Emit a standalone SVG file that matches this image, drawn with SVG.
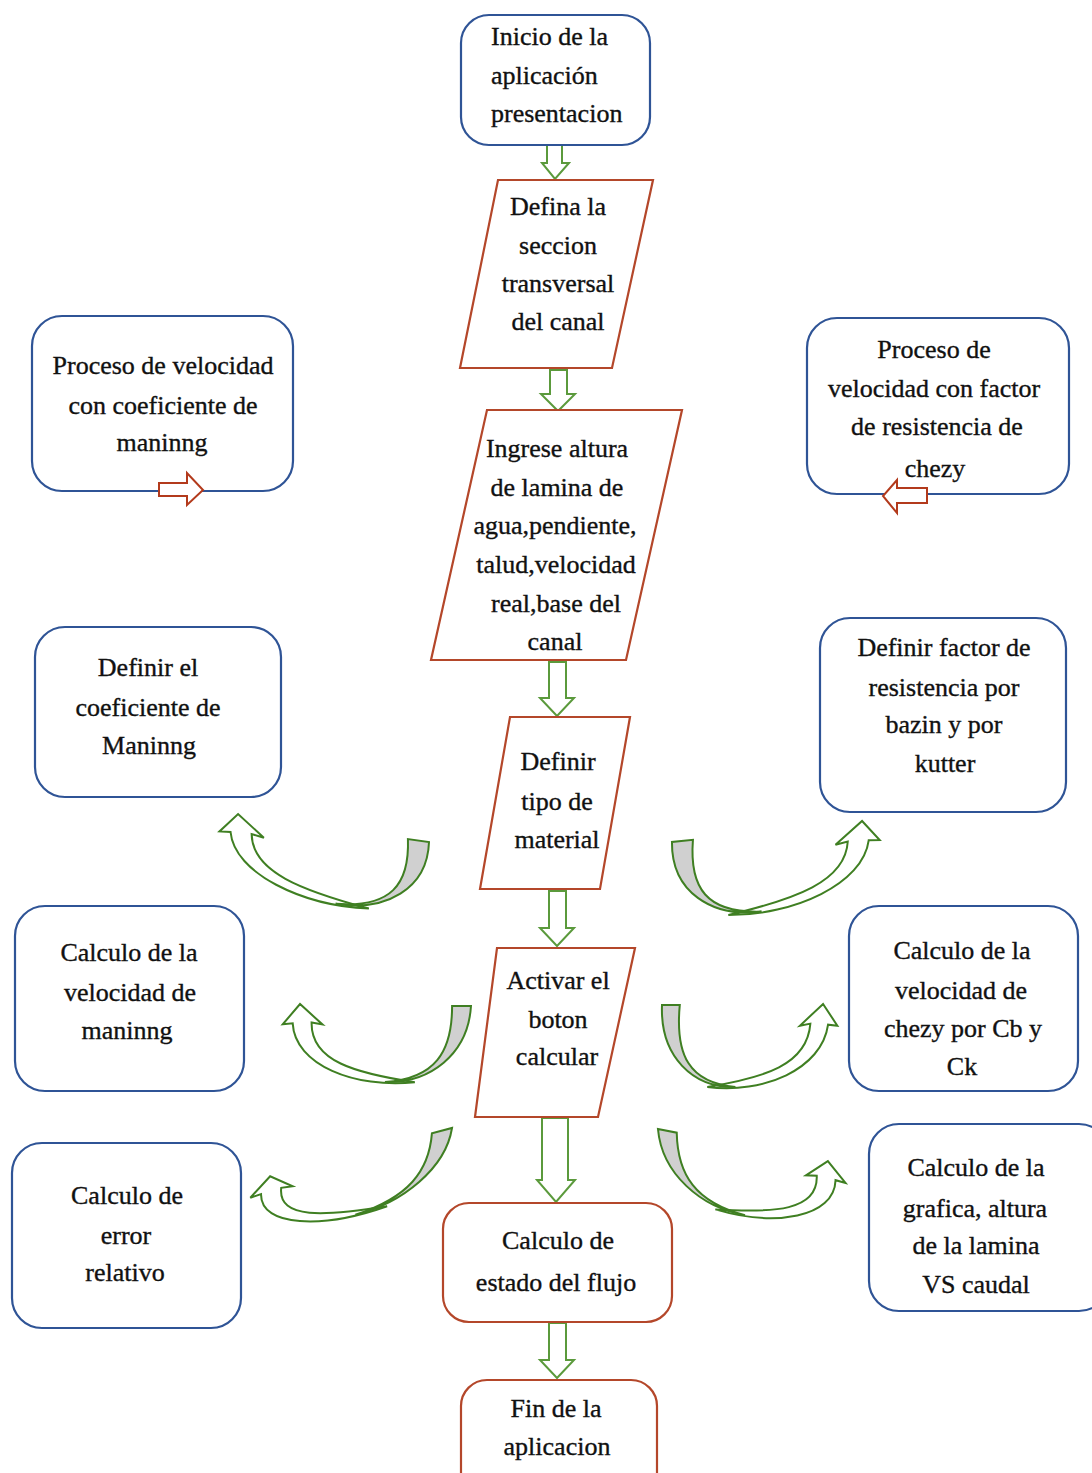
<svg xmlns="http://www.w3.org/2000/svg" width="1092" height="1473" viewBox="0 0 1092 1473">
<defs>
<style>
.bg{fill:#ffffff}
.bbox{fill:#ffffff;stroke:#2f5496;stroke-width:2.2}
.rbox{fill:#ffffff;stroke:#b4472a;stroke-width:2.2}
.t{font-family:"Liberation Serif","Times New Roman",serif;font-size:26px;fill:#111111;stroke:#111111;stroke-width:0.35;text-anchor:middle}
.tl{font-family:"Liberation Serif","Times New Roman",serif;font-size:26px;fill:#111111;stroke:#111111;stroke-width:0.35;text-anchor:start}
.down{fill:#ffffff;stroke:#5b9a3c;stroke-width:2}
.red{fill:#ffffff;stroke:#b33a1c;stroke-width:2}
.cg{fill:#d0d0d0;stroke:#3f7f22;stroke-width:2;vector-effect:non-scaling-stroke}
.cw{fill:#ffffff;stroke:#3f7f22;stroke-width:2;vector-effect:non-scaling-stroke}
</style>
<g id="curve">
<path class="cw" d="M35,-1 C-25,6 -86,-18 -89,-61 L-99,-60 L-82,-81 L-59,-60 L-70,-62 C-70,-22 -25,-10 35,-1 Z"/>
<path class="cg" d="M90,-80 C88,-30 50,0 5,-1 C55,-5 72,-32 71,-80 Z"/>
</g>
</defs>
<rect class="bg" x="0" y="0" width="1092" height="1473"/>

<g id="connectors">
<path class="down" d="M547,145 L562,145 L562,163 L569,163 L555,179 L542,163 L547,163 Z"/>
<path class="down" d="M550,370 L567,370 L567,394 L575,394 L558,411 L541,394 L550,394 Z"/>
<path class="down" d="M549,662 L566,662 L566,698 L574,698 L557,716 L540,698 L549,698 Z"/>
<path class="down" d="M549,891 L566,891 L566,928 L574,928 L557,946 L540,928 L549,928 Z"/>
<path class="down" d="M542,1118 L568,1118 L568,1180 L575,1180 L556,1202 L537,1180 L542,1180 Z"/>
<path class="down" d="M549,1323 L566,1323 L566,1360 L574,1360 L557,1378 L540,1360 L549,1360 Z"/>
<use href="#curve" transform="matrix(1.110,0.157,0.011,0.951,330,904)"/>
<use href="#curve" transform="matrix(0.994,0.006,-0.019,0.969,380,1083)"/>
<use href="#curve" transform="matrix(1.058,-0.285,-0.085,0.792,350,1217)"/>
<use href="#curve" transform="matrix(-1.105,0.116,-0.055,1.006,767,912)"/>
<use href="#curve" transform="matrix(-0.936,0,-0.078,1.038,740,1088)"/>
<use href="#curve" transform="matrix(-0.988,-0.192,0.039,0.884,750,1217)"/>
</g>

<g id="n-inicio">
<rect class="bbox" x="461" y="15" width="189" height="130" rx="28"/>
<text class="tl" x="491" y="45">Inicio de la</text>
<text class="tl" x="491" y="84">aplicación</text>
<text class="tl" x="491" y="122">presentacion</text>
</g>

<g id="n-defina">
<polygon class="rbox" points="498,180 653,180 612,368 460,368"/>
<text class="t" x="558" y="215">Defina la</text>
<text class="t" x="558" y="254">seccion</text>
<text class="t" x="558" y="292">transversal</text>
<text class="t" x="558" y="330">del canal</text>
</g>

<g id="n-ingrese">
<polygon class="rbox" points="487,410 682,410 626,660 431,660"/>
<text class="t" x="557" y="457">Ingrese altura</text>
<text class="t" x="557" y="496">de lamina de</text>
<text class="t" x="555" y="534">agua,pendiente,</text>
<text class="t" x="556" y="573">talud,velocidad</text>
<text class="t" x="556" y="612">real,base del</text>
<text class="t" x="555" y="650">canal</text>
</g>

<g id="n-material">
<polygon class="rbox" points="510,717 630,717 600,889 480,889"/>
<text class="t" x="558" y="770">Definir</text>
<text class="t" x="557" y="810">tipo de</text>
<text class="t" x="557" y="848">material</text>
</g>

<g id="n-activar">
<polygon class="rbox" points="497,948 635,948 598,1117 475,1117"/>
<text class="t" x="558" y="989">Activar el</text>
<text class="t" x="558" y="1028">boton</text>
<text class="t" x="557" y="1065">calcular</text>
</g>

<g id="n-estado">
<rect class="rbox" x="443" y="1203" width="229" height="119" rx="26"/>
<text class="t" x="558" y="1249">Calculo de</text>
<text class="t" x="556" y="1291">estado del flujo</text>
</g>

<g id="n-fin">
<rect class="rbox" x="461" y="1380" width="196" height="120" rx="26"/>
<text class="t" x="556" y="1417">Fin de la</text>
<text class="t" x="557" y="1455">aplicacion</text>
</g>

<g id="n-proc-maninng">
<rect class="bbox" x="32" y="316" width="261" height="175" rx="30"/>
<text class="t" x="163" y="374">Proceso de velocidad</text>
<text class="t" x="163" y="414">con coeficiente de</text>
<text class="t" x="162" y="451">maninng</text>
<path class="red" d="M159,483 L187,483 L187,473 L203,490 L187,505 L187,496 L159,496 Z"/>
</g>

<g id="n-proc-chezy">
<rect class="bbox" x="807" y="318" width="262" height="176" rx="30"/>
<text class="t" x="934" y="358">Proceso de</text>
<text class="t" x="934" y="397">velocidad con factor</text>
<text class="t" x="937" y="435">de resistencia de</text>
<text class="t" x="935" y="477">chezy</text>
<path class="red" d="M927,488 L897,488 L897,480 L883,496 L897,513 L897,503 L927,503 Z"/>
</g>

<g id="n-def-maninng">
<rect class="bbox" x="35" y="627" width="246" height="170" rx="30"/>
<text class="t" x="148" y="676">Definir el</text>
<text class="t" x="148" y="716">coeficiente de</text>
<text class="t" x="149" y="754">Maninng</text>
</g>

<g id="n-def-factor">
<rect class="bbox" x="820" y="618" width="246" height="194" rx="30"/>
<text class="t" x="944" y="656">Definir factor de</text>
<text class="t" x="944" y="696">resistencia por</text>
<text class="t" x="944" y="733">bazin y por</text>
<text class="t" x="945" y="772">kutter</text>
</g>

<g id="n-vel-maninng">
<rect class="bbox" x="15" y="906" width="229" height="185" rx="30"/>
<text class="t" x="129" y="961">Calculo de la</text>
<text class="t" x="130" y="1001">velocidad de</text>
<text class="t" x="127" y="1039">maninng</text>
</g>

<g id="n-vel-chezy">
<rect class="bbox" x="849" y="906" width="229" height="185" rx="30"/>
<text class="t" x="962" y="959">Calculo de la</text>
<text class="t" x="961" y="999">velocidad de</text>
<text class="t" x="963" y="1037">chezy por Cb y</text>
<text class="t" x="962" y="1075">Ck</text>
</g>

<g id="n-error">
<rect class="bbox" x="12" y="1143" width="229" height="185" rx="30"/>
<text class="t" x="127" y="1204">Calculo de</text>
<text class="t" x="126" y="1244">error</text>
<text class="t" x="125" y="1281">relativo</text>
</g>

<g id="n-grafica">
<rect class="bbox" x="869" y="1124" width="240" height="187" rx="30"/>
<text class="t" x="976" y="1176">Calculo de la</text>
<text class="t" x="975" y="1217">grafica, altura</text>
<text class="t" x="976" y="1254">de la lamina</text>
<text class="t" x="976" y="1293">VS caudal</text>
</g>
</svg>
